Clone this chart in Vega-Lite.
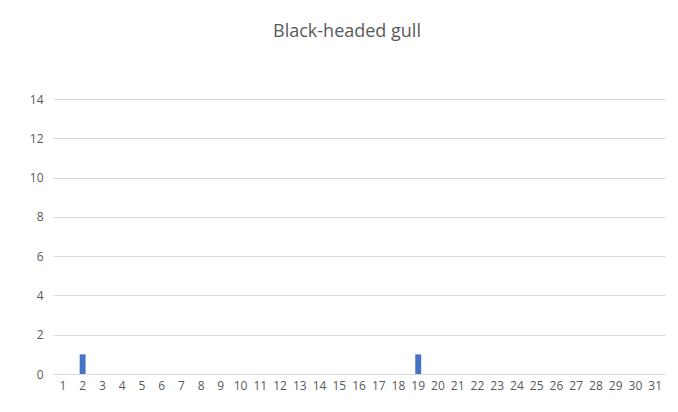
{
  "$schema": "https://vega.github.io/schema/vega-lite/v6.json",
  "autosize": {"type": "none"},
  "width": 612,
  "height": 275,
  "padding": {"left": 53, "top": 99, "right": 13, "bottom": 38},
  "background": "white",
  "title": {
    "text": "Black-headed gull",
    "font": "Open Sans",
    "fontSize": 18,
    "fontWeight": "normal",
    "color": "#595959",
    "anchor": "middle",
    "dx": -12,
    "offset": 52
  },
  "data": {
    "values": [
      {"day": 1, "count": 0}, {"day": 2, "count": 1}, {"day": 3, "count": 0},
      {"day": 4, "count": 0}, {"day": 5, "count": 0}, {"day": 6, "count": 0},
      {"day": 7, "count": 0}, {"day": 8, "count": 0}, {"day": 9, "count": 0},
      {"day": 10, "count": 0}, {"day": 11, "count": 0}, {"day": 12, "count": 0},
      {"day": 13, "count": 0}, {"day": 14, "count": 0}, {"day": 15, "count": 0},
      {"day": 16, "count": 0}, {"day": 17, "count": 0}, {"day": 18, "count": 0},
      {"day": 19, "count": 1}, {"day": 20, "count": 0}, {"day": 21, "count": 0},
      {"day": 22, "count": 0}, {"day": 23, "count": 0}, {"day": 24, "count": 0},
      {"day": 25, "count": 0}, {"day": 26, "count": 0}, {"day": 27, "count": 0},
      {"day": 28, "count": 0}, {"day": 29, "count": 0}, {"day": 30, "count": 0},
      {"day": 31, "count": 0}
    ]
  },
  "mark": {"type": "bar", "color": "#4472c4"},
  "encoding": {
    "x": {
      "field": "day",
      "type": "ordinal",
      "sort": null,
      "scale": {"paddingInner": 0.7, "paddingOuter": 0.35},
      "axis": {
        "title": null,
        "labelAngle": 0,
        "labelFont": "Open Sans",
        "labelFontSize": 12,
        "labelColor": "#595959",
        "labelPadding": 6,
        "ticks": false,
        "domain": false,
        "labelOverlap": false
      }
    },
    "y": {
      "field": "count",
      "type": "quantitative",
      "scale": {"domain": [0, 14], "nice": false},
      "axis": {
        "title": null,
        "values": [0, 2, 4, 6, 8, 10, 12, 14],
        "labelFont": "Open Sans",
        "labelFontSize": 12,
        "labelColor": "#595959",
        "labelPadding": 10,
        "ticks": false,
        "domain": false,
        "gridColor": "#d9d9d9",
        "gridWidth": 1
      }
    }
  },
  "config": {"view": {"stroke": null}}
}
